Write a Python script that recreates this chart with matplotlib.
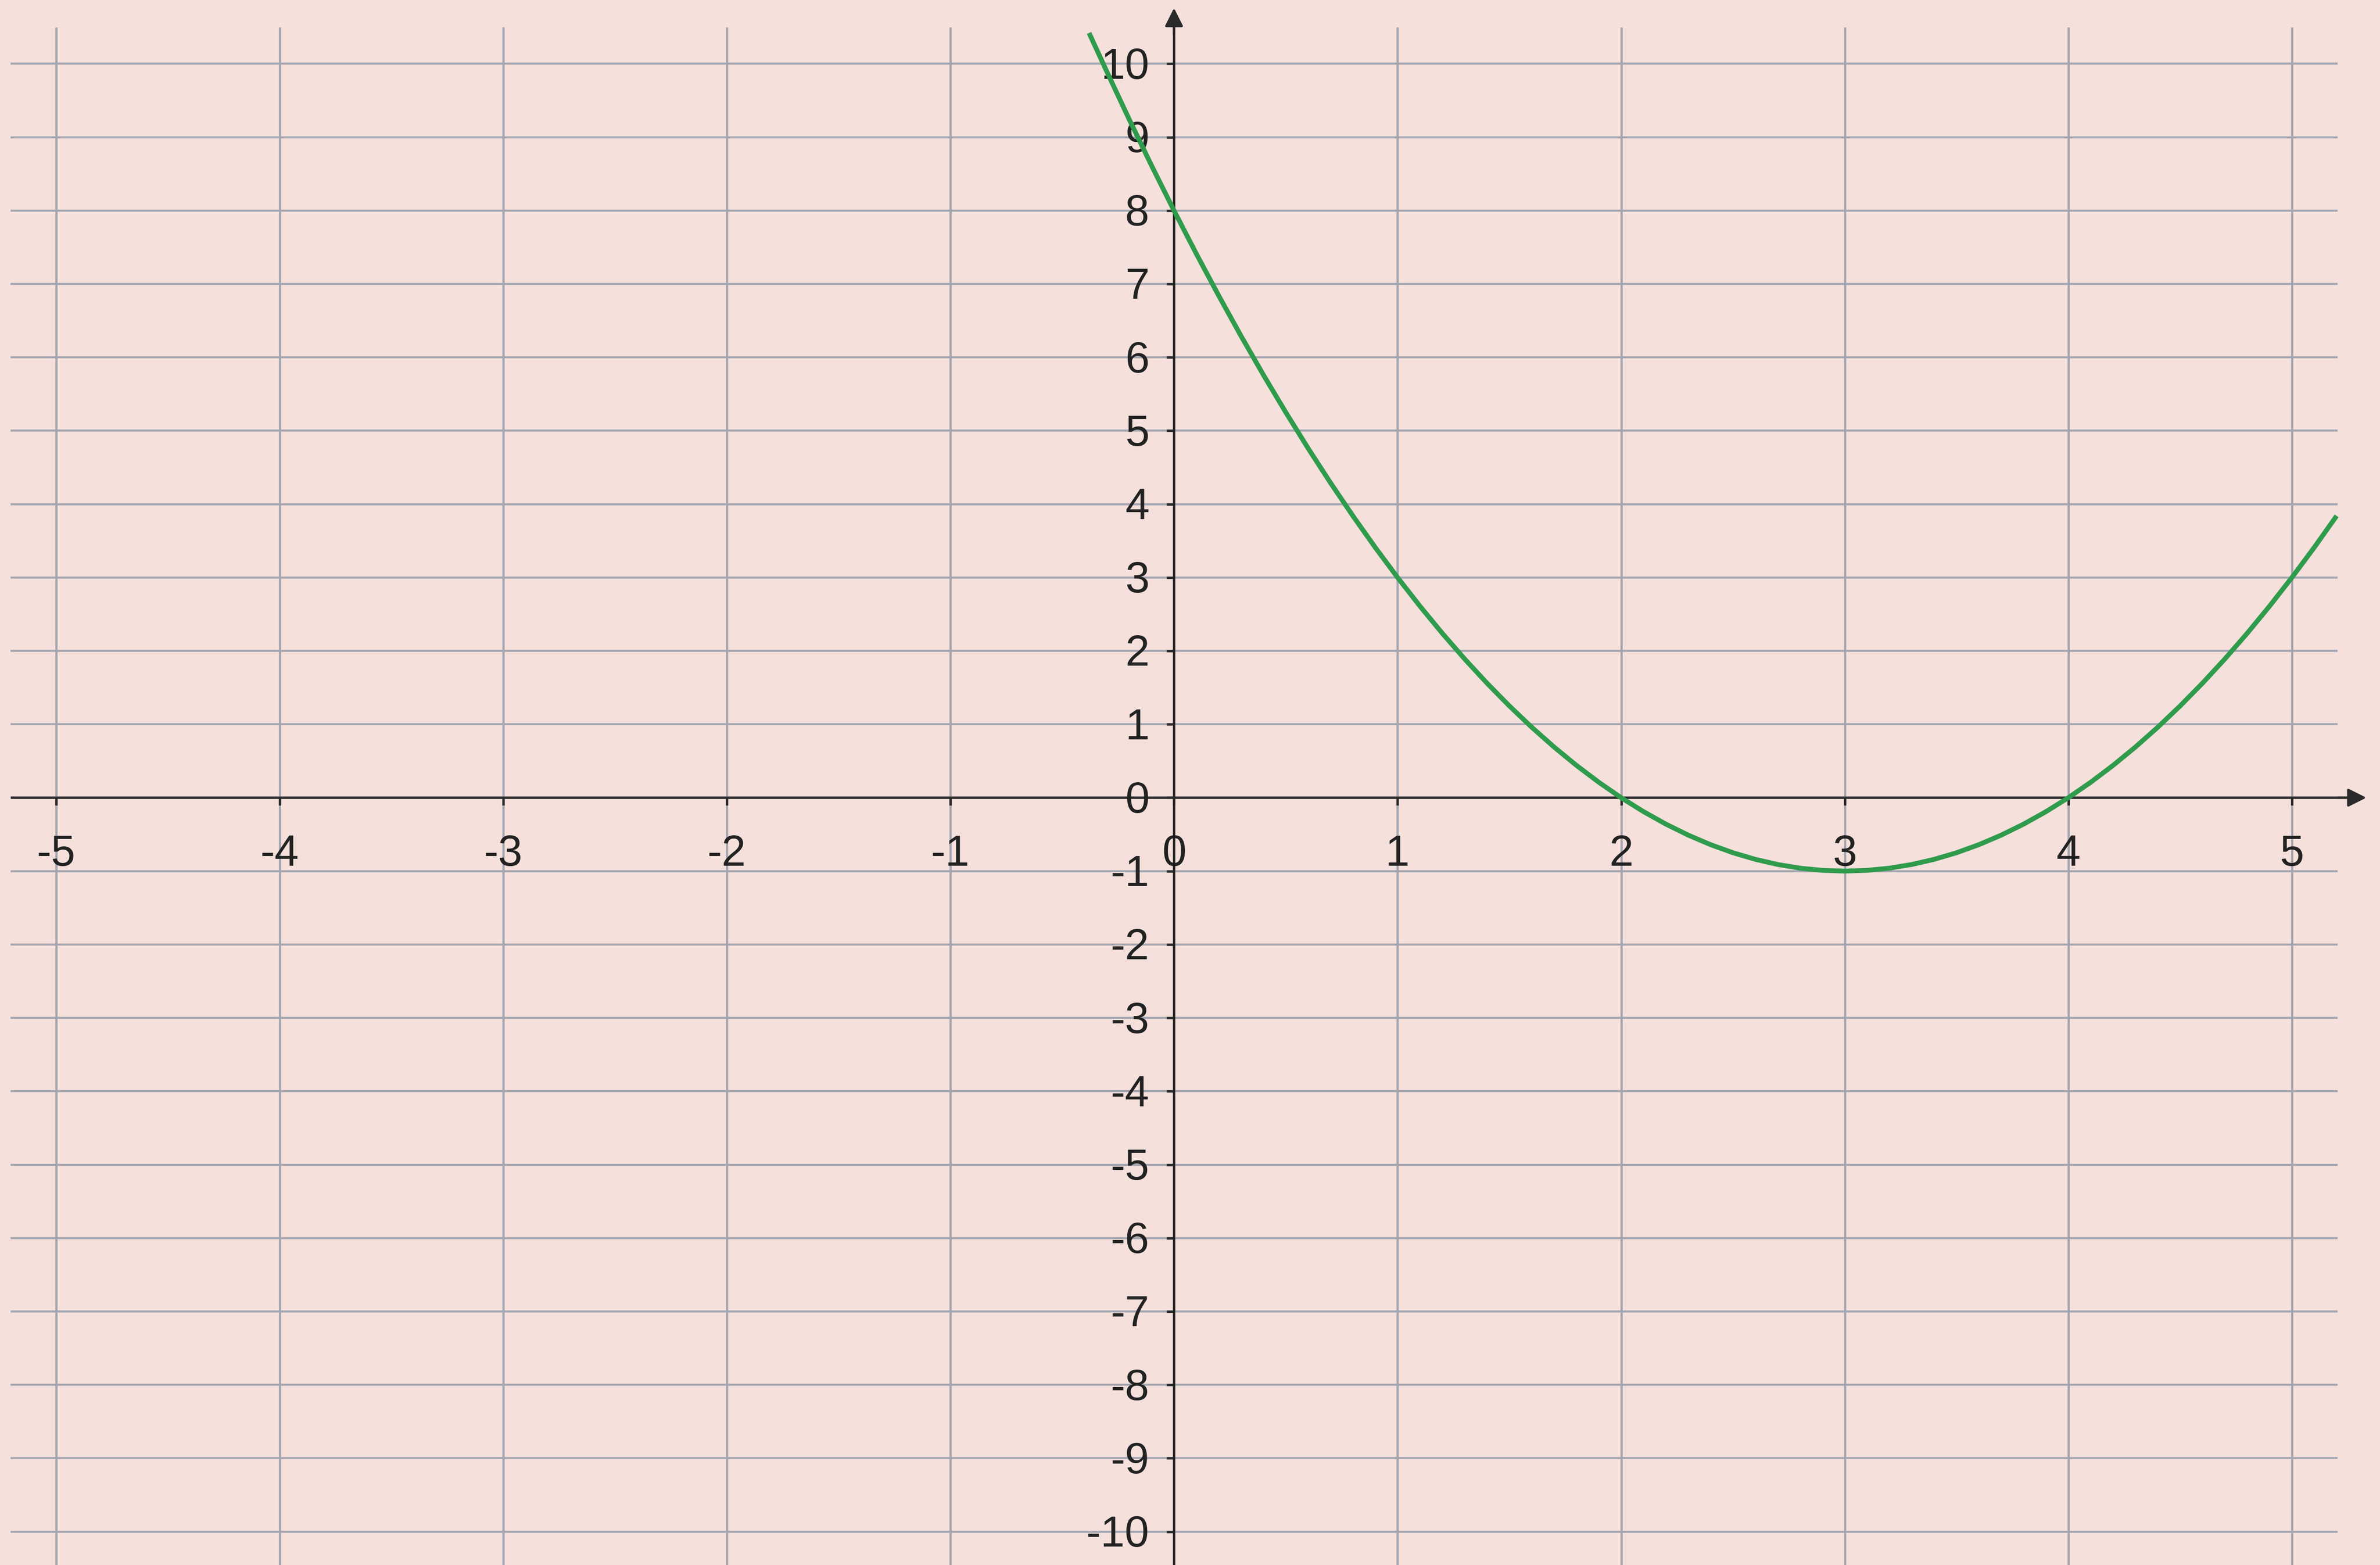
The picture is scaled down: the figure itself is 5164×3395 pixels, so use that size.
import matplotlib
matplotlib.use("Agg")
import matplotlib.pyplot as plt

# curve points (x, y)
curve_x = [-0.38, -0.3, -0.2, -0.1, 0.0, 0.1, 0.2, 0.3, 0.4, 0.5, 0.6, 0.7, 0.8, 0.9,
           1.0, 1.1, 1.2, 1.3, 1.4, 1.5, 1.6, 1.7, 1.8, 1.9, 2.0, 2.1, 2.2, 2.3, 2.4,
           2.5, 2.6, 2.7, 2.8, 2.9, 3.0, 3.1, 3.2, 3.3, 3.4, 3.5, 3.6, 3.7, 3.8, 3.9,
           4.0, 4.1, 4.2, 4.3, 4.4, 4.5, 4.6, 4.7, 4.8, 4.9, 5.0, 5.1, 5.2]
curve_y = [10.42, 9.89, 9.24, 8.61, 8.0, 7.41, 6.84, 6.29, 5.76, 5.25, 4.76, 4.29, 3.84, 3.41,
           3.0, 2.61, 2.24, 1.89, 1.56, 1.25, 0.96, 0.69, 0.44, 0.21, 0.0, -0.19, -0.36, -0.51, -0.64,
           -0.75, -0.84, -0.91, -0.96, -0.99, -1.0, -0.99, -0.96, -0.91, -0.84, -0.75, -0.64, -0.51, -0.36, -0.19,
           0.0, 0.21, 0.44, 0.69, 0.96, 1.25, 1.56, 1.89, 2.24, 2.61, 3.0, 3.41, 3.84]

x_ticks = [-5, -4, -3, -2, -1, 0, 1, 2, 3, 4, 5]
y_ticks = [-10, -9, -8, -7, -6, -5, -4, -3, -2, -1, 0, 1, 2, 3, 4, 5, 6, 7, 8, 9, 10]

bg = '#f5e0db'
grid_col = '#a3a6b1'
axis_col = '#2a2a2a'
text_col = '#222222'
green = '#2f9b4c'

fig = plt.figure(figsize=(51.64, 33.95), dpi=100, facecolor=bg)
ax = fig.add_axes([0, 0, 1, 1])
ax.set_facecolor(bg)
ax.set_xlim(-5.251, 5.394)
ax.set_ylim(-10.455, 10.869)
ax.axis('off')

# grid
ax.hlines(y_ticks, -5.204, 5.204, color=grid_col, lw=3.2, zorder=1)
ax.vlines(x_ticks, -10.6, 10.5, color=grid_col, lw=3.4, zorder=1)

# axes with arrows
ax.hlines(0, -5.204, 5.30, color=axis_col, lw=3.8, zorder=2)
ax.vlines(0, -10.6, 10.70, color=axis_col, lw=3.8, zorder=2)
ax.annotate('', xy=(5.333, 0), xytext=(5.2, 0),
            arrowprops=dict(arrowstyle='-|>,head_length=0.6,head_width=0.3',
                            mutation_scale=40, color=axis_col, lw=3.8,
                            shrinkA=0, shrinkB=0), zorder=3)
ax.annotate('', xy=(0, 10.76), xytext=(0, 10.4),
            arrowprops=dict(arrowstyle='-|>,head_length=0.6,head_width=0.3',
                            mutation_scale=40, color=axis_col, lw=3.8,
                            shrinkA=0, shrinkB=0), zorder=3)

# tick marks
ax.vlines(x_ticks, -0.105, 0, color=axis_col, lw=3.8, zorder=2)
ax.hlines(y_ticks, -0.034, 0, color=axis_col, lw=3.8, zorder=2)

# tick labels
for t in x_ticks:
    ax.text(t, -0.77, str(t), ha='center', va='center', fontsize=68,
            family='Liberation Sans', color=text_col, zorder=4)
for t in y_ticks:
    ax.text(-0.11, t - 0.05, str(t), ha='right', va='center', fontsize=68,
            family='Liberation Sans', color=text_col, zorder=4)

# the curve
ax.plot(curve_x, curve_y, color=green, lw=7.5, solid_joinstyle='round',
        solid_capstyle='butt', zorder=5)

fig.savefig('out.png', dpi=100, facecolor=bg)
